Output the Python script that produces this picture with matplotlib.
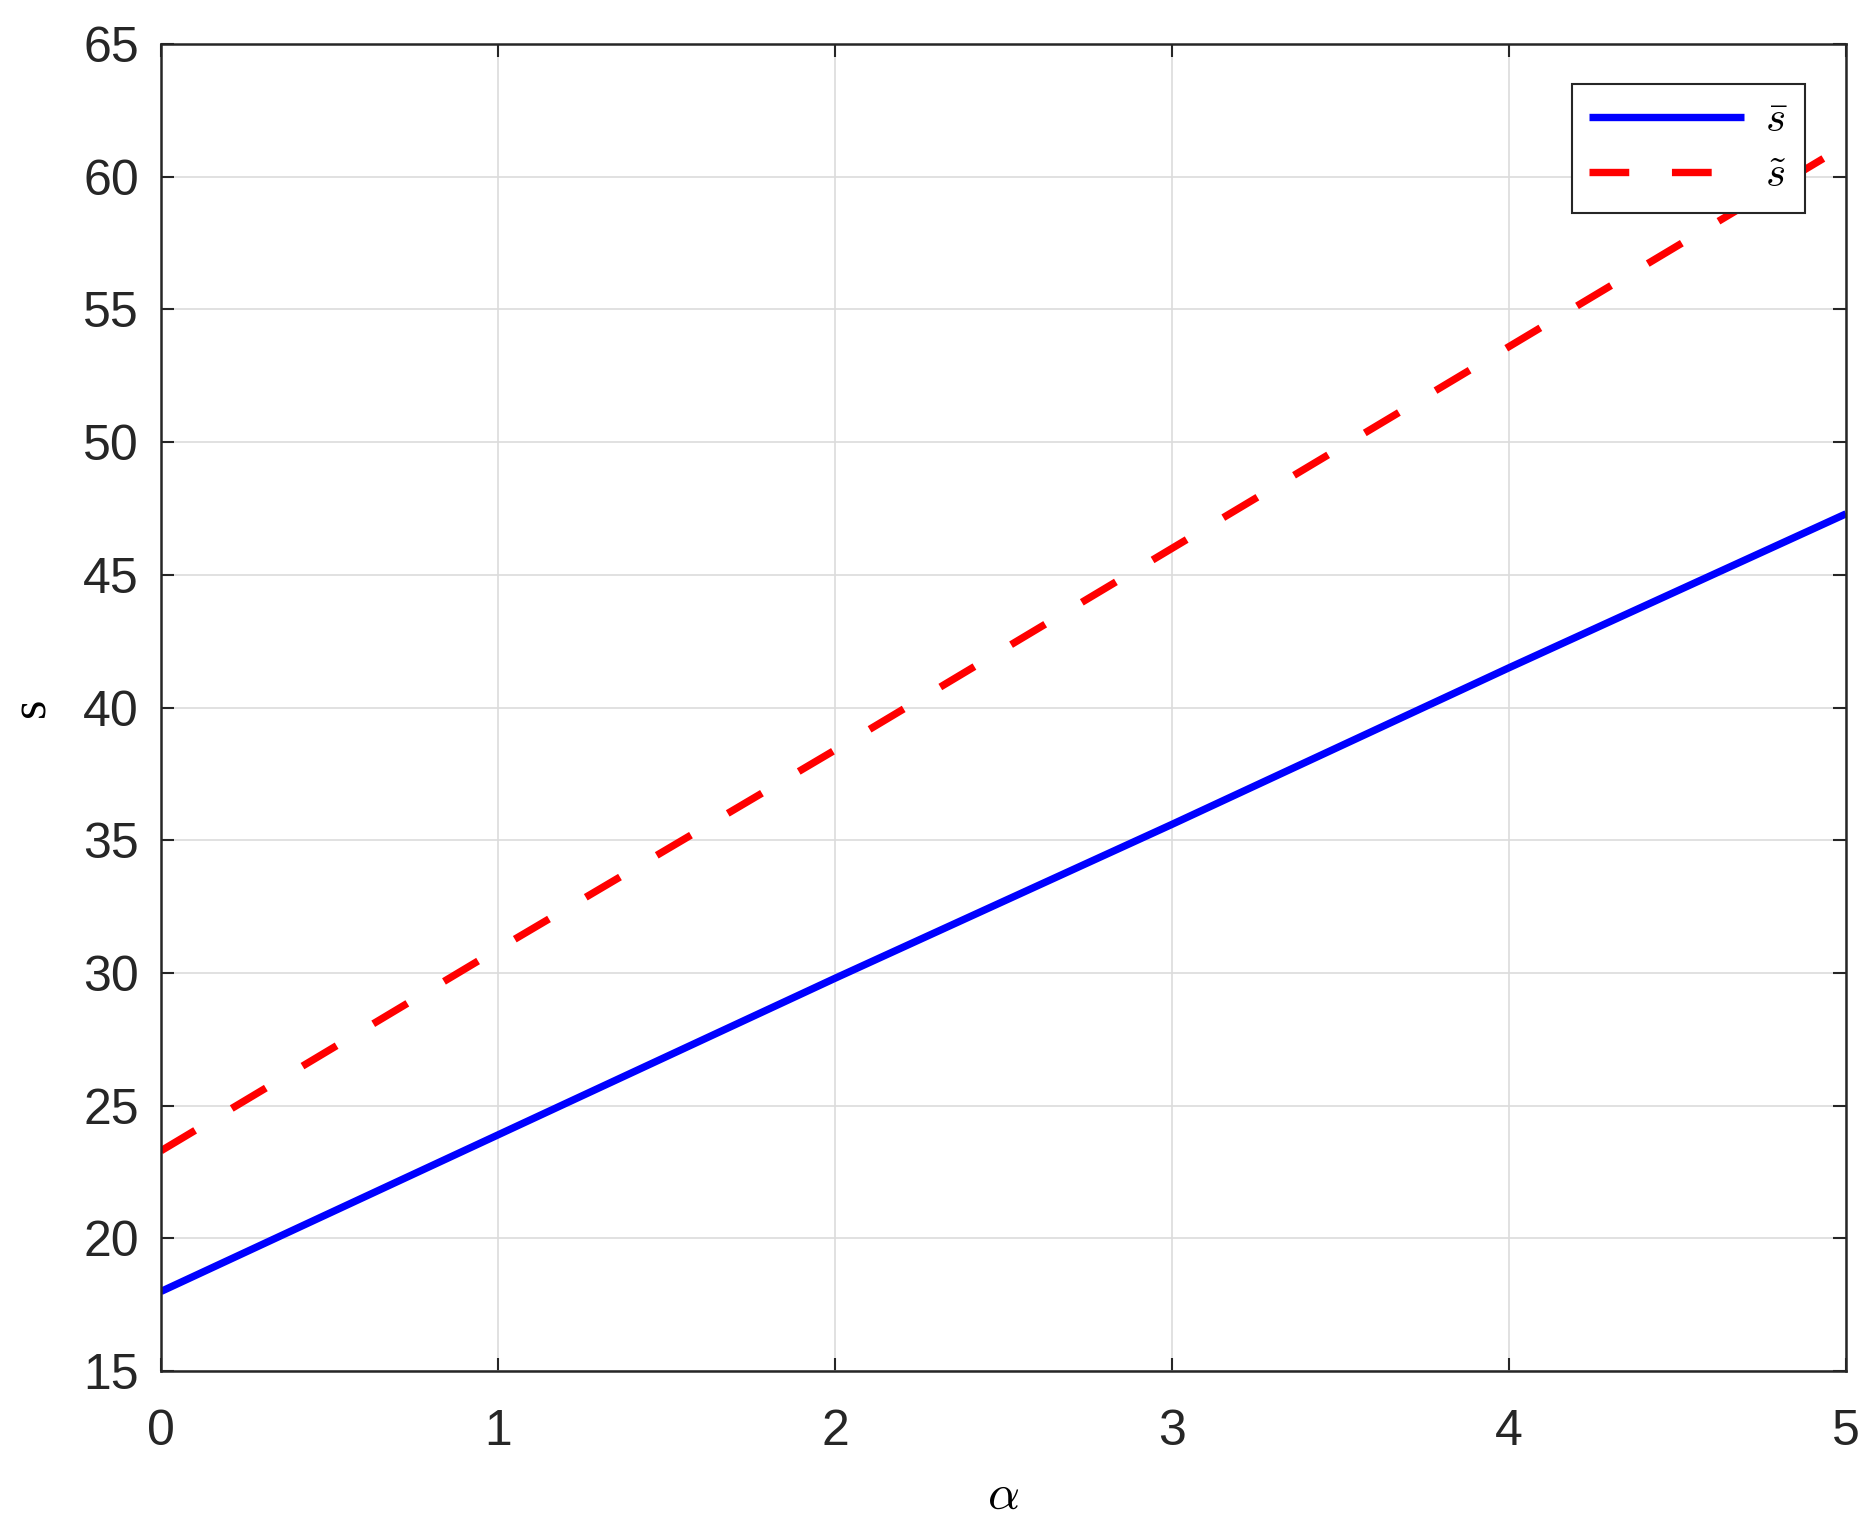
import matplotlib
matplotlib.use("Agg")
import matplotlib.pyplot as plt

# data
alpha = [0, 1, 2, 3, 4, 5]
s_bar = [18.0, 23.9, 29.8, 35.6, 41.5, 47.3]
s_tilde = [23.3, 30.9, 38.4, 46.0, 53.6, 61.2]

xticks = [0, 1, 2, 3, 4, 5]
yticks = [15, 20, 25, 30, 35, 40, 45, 50, 55, 60, 65]

plt.rcParams['font.family'] = ['Liberation Sans', 'DejaVu Sans']
plt.rcParams['mathtext.fontset'] = 'cm'

fig = plt.figure(figsize=(18.7, 15.34), dpi=100)
ax = fig.add_axes([0.0861, 0.1062, 0.9011, 0.8651])

ax.plot(alpha, s_bar, color='#0000ff', lw=5.3, solid_capstyle='butt', label=r'$\bar{s}$')
ax.plot(alpha, s_tilde, color='#ff0000', lw=5.3, linestyle=(0, (5.4, 5.8)),
        dash_capstyle='butt', label=r'$\tilde{s}$')

ax.set_xlim(0, 5)
ax.set_ylim(15, 65)
ax.set_xticks(xticks)
ax.set_yticks(yticks)
ax.grid(True, color='#dcdcdc', lw=1.2)
ax.set_axisbelow(True)

ax.tick_params(direction='in', length=9.5, width=1.5, labelsize=36,
               top=True, right=True, colors='#262626')
ax.tick_params(axis='x', pad=27)
ax.tick_params(axis='y', pad=16)
for sp in ax.spines.values():
    sp.set_linewidth(1.8)
    sp.set_color('#262626')

ax.set_xlabel(r'$\alpha$', fontsize=36, labelpad=13)
ax.set_ylabel('s', fontsize=36, family='Liberation Serif', labelpad=20)

leg = ax.legend(loc='upper right', bbox_to_anchor=(0.9757, 0.9699), borderaxespad=0,
                fontsize=31, handlelength=3.6, frameon=True, fancybox=False,
                edgecolor='#262626', framealpha=1, borderpad=0.4,
                labelspacing=0.35, handletextpad=0.5)
leg.get_frame().set_linewidth(1.5)

fig.savefig('out.png', dpi=100)
